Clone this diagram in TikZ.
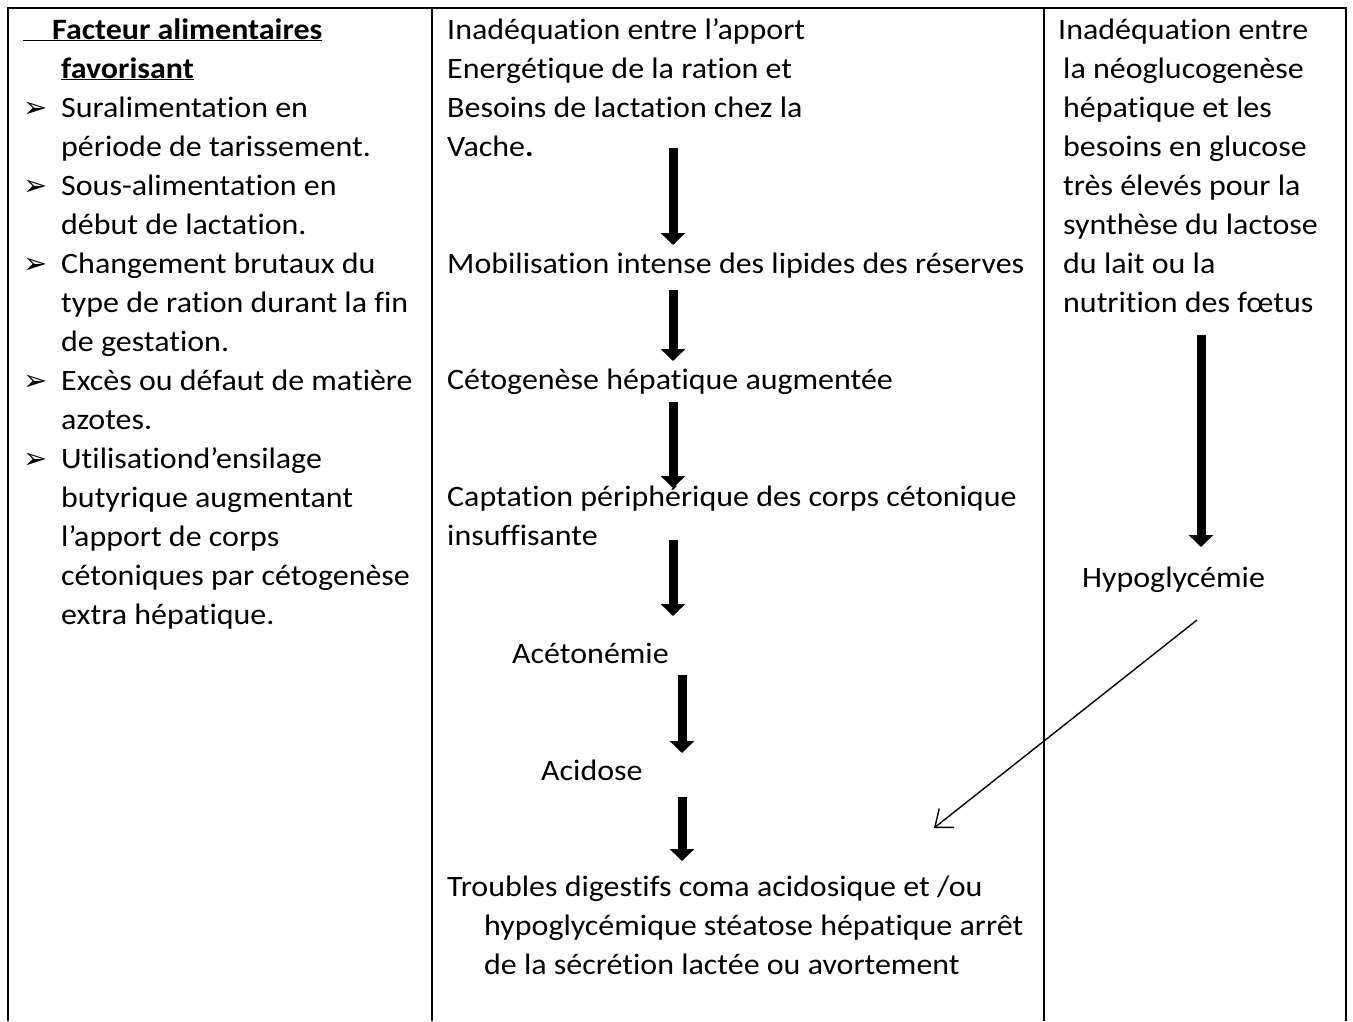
\documentclass[tikz,border=0pt]{standalone}
\usepackage{fontspec}
\setmainfont{Carlito}[FakeStretch=1.08, Ligatures={TeX,NoCommon}]
\newfontfamily\dejavu{DejaVu Sans}
\usetikzlibrary{arrows.meta}
\begin{document}
\begin{tikzpicture}[x=1pt,y=-1pt,
  txt/.style={anchor=base west, inner sep=0pt, font=\fontsize{29.6}{39}\selectfont},
  bul/.style={anchor=base west, inner sep=0pt, font=\dejavu\fontsize{29}{39}\selectfont},
  gridline/.style={line width=2.2pt},
  bigarrow/.style={line width=9pt, -{Triangle[width=24pt,length=12pt]}},
  thinarrow/.style={line width=1.4pt, -{Straight Barb[length=15pt,width=24pt]}}]
\useasboundingbox (0,0) rectangle (1353,1021);
\fill[white] (0,0) rectangle (1353,1021);

% table grid
\draw[gridline] (8,1021) -- (8,8) -- (1346,8) -- (1346,1021);
\draw[gridline] (432,8) -- (432,1021);
\draw[gridline] (1044,8) -- (1044,1021);

% left column
\node[txt] (h1) at (23,39) {\bfseries\underline{\hspace*{29pt}Facteur alimentaires}};
\node[txt] (h2) at (61,78) {\bfseries\underline{favorisant}};
\foreach \y in {117,195,273,390,468}{
  \node[bul] at (23,\y) {➢};
}
\node[txt] (l1) at (61,117) {Suralimentation en};
\node[txt] (l2) at (61,156) {période de tarissement.};
\node[txt] (l3) at (61,195) {Sous-alimentation en};
\node[txt] (l4) at (61,234) {début de lactation.};
\node[txt] (l5) at (61,273) {Changement brutaux du};
\node[txt] (l6) at (61,312) {type de ration durant la fin};
\node[txt] (l7) at (61,351) {de gestation.};
\node[txt] (l8) at (61,390) {Excès ou défaut de matière};
\node[txt] (l9) at (61,429) {azotes.};
\node[txt] (l10) at (61,468) {Utilisationd’ensilage};
\node[txt] (l11) at (61,507) {butyrique augmentant};
\node[txt] (l12) at (61,546) {l’apport de corps};
\node[txt] (l13) at (61,585) {cétoniques par cétogenèse};
\node[txt] (l14) at (61,624) {extra hépatique.};

% middle column
\node[txt] (m1) at (447,39) {Inadéquation entre l’apport};
\node[txt] (m2) at (447,78) {Energétique de la ration et};
\node[txt] (m3) at (447,117) {Besoins de lactation chez la};
\node[txt] (m4) at (447,156) {Vache\textbf{.}};
\node[txt] (m5) at (447,273) {Mobilisation intense des lipides des réserves};
\node[txt] (m6) at (447,389) {Cétogenèse hépatique augmentée};
\node[txt] (m7) at (447,506) {Captation périphérique des corps cétonique};
\node[txt] (m8) at (447,545) {insuffisante};
\node[txt] (m9) at (512,663) {Acétonémie};
\node[txt] (m10) at (541,780) {Acidose};
\node[txt] (m11) at (447,896) {Troubles digestifs coma acidosique et /ou};
\node[txt] (m12) at (484,935) {hypoglycémique stéatose hépatique arrêt};
\node[txt] (m13) at (484,974) {de la sécrétion lactée ou avortement};

% right column
\node[txt] (r1) at (1058,39) {Inadéquation entre};
\node[txt] (r2) at (1063,78) {la néoglucogenèse};
\node[txt] (r3) at (1063,117) {hépatique et les};
\node[txt] (r4) at (1063,156) {besoins en glucose};
\node[txt] (r5) at (1063,195) {très élevés pour la};
\node[txt] (r6) at (1063,234) {synthèse du lactose};
\node[txt] (r7) at (1063,273) {du lait ou la};
\node[txt] (r8) at (1063,312) {nutrition des fœtus};
\node[txt] (hypo) at (1082,587) {Hypoglycémie};

% arrow endpoints
\coordinate (a1s) at (673,148); \coordinate (a1e) at (673,245);
\coordinate (a2s) at (673,290); \coordinate (a2e) at (673,361);
\coordinate (a3s) at (673,402); \coordinate (a3e) at (673,488);
\coordinate (a4s) at (673,540); \coordinate (a4e) at (673,616);
\coordinate (a5s) at (682,675); \coordinate (a5e) at (682,753);
\coordinate (a6s) at (682,797); \coordinate (a6e) at (682,861);
\coordinate (a7s) at (1201,335); \coordinate (a7e) at (1201,547);
\coordinate (ts) at (1197,620); \coordinate (te) at (934,828);

\draw[bigarrow] (a1s) -- (a1e);
\draw[bigarrow] (a2s) -- (a2e);
\draw[bigarrow] (a3s) -- (a3e);
\draw[bigarrow] (a4s) -- (a4e);
\draw[bigarrow] (a5s) -- (a5e);
\draw[bigarrow] (a6s) -- (a6e);
\draw[bigarrow] (a7s) -- (a7e);
\draw[thinarrow] (ts) -- (te);
\end{tikzpicture}
\end{document}
